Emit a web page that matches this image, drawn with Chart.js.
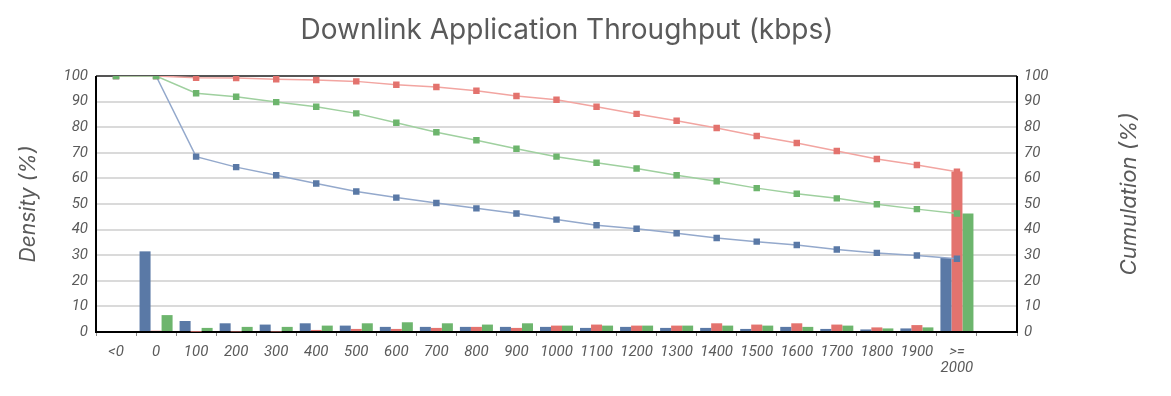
<!DOCTYPE html>
<html>
<head>
<meta charset="utf-8">
<script src="https://cdn.jsdelivr.net/npm/chart.js@4"></script>
<style>
html,body{margin:0;padding:0;background:#fff;}
#wrap{width:1171px;height:396px;}
</style>
</head>
<body>
<div id="wrap"><canvas id="c" width="1171" height="396"></canvas></div>
<script>
const categories = ["<0","0","100","200","300","400","500","600","700","800","900","1000","1100","1200","1300","1400","1500","1600","1700","1800","1900",[">=","2000"],""];
const densityBlue  = [0,31.5,4.3,3.4,2.9,3.4,2.5,2.0,2.0,2.0,2.0,2.0,1.6,2.0,1.6,1.6,1.2,2.0,1.2,1.0,1.4,28.9,null];
const densityRed   = [0,0.5,0.1,0.2,0.2,0.8,1.2,1.2,1.6,2.0,1.6,2.5,2.9,2.5,2.5,3.4,2.9,3.4,2.9,1.8,2.7,62.7,null];
const densityGreen = [0,6.6,1.6,2.0,2.0,2.5,3.4,3.8,3.4,2.9,3.4,2.5,2.5,2.5,2.5,2.5,2.5,2.0,2.5,1.4,1.8,46.3,null];
const cumBlue  = [100,100,68.5,64.4,61.2,58.0,54.9,52.5,50.4,48.3,46.3,43.9,41.7,40.3,38.6,36.7,35.3,34.0,32.2,30.9,29.9,28.6,null];
const cumRed   = [100,100,99.3,99.2,98.7,98.4,97.9,96.6,95.7,94.2,92.2,90.7,88.0,85.2,82.5,79.7,76.6,73.8,70.7,67.6,65.2,62.6,null];
const cumGreen = [100,100,93.3,91.9,89.8,88.0,85.4,81.7,78.0,74.9,71.6,68.5,66.1,63.9,61.2,58.9,56.2,54.0,52.2,49.9,48.0,46.3,null];
const yTicks = [0,10,20,30,40,50,60,70,80,90,100];
const chartTitle = 'Downlink Application Throughput (kbps)';

const BLUE='#5a79a6', RED='#e3736e', GREEN='#6db56d';
const TXT='#5a5a5a';
const FONT='Roboto';
const TFONT='Inter';

const framePlugin = {
  id:'frame',
  beforeDatasetsDraw(chart){
    const {ctx, chartArea:a} = chart;
    ctx.save();
    ctx.lineWidth = 2;
    ctx.strokeStyle = '#555';
    ctx.beginPath(); ctx.moveTo(a.left, a.top); ctx.lineTo(a.right, a.top); ctx.stroke();
    ctx.strokeStyle = '#000';
    ctx.beginPath();
    ctx.moveTo(a.left, a.top); ctx.lineTo(a.left, a.bottom); ctx.lineTo(a.right, a.bottom); ctx.lineTo(a.right, a.top);
    ctx.stroke();
    ctx.restore();
  },
  afterDraw(chart){
    const ctx = chart.ctx;
    ctx.save();
    ctx.font = '28px ' + TFONT;
    ctx.fillStyle = TXT;
    ctx.textAlign = 'center';
    ctx.textBaseline = 'middle';
    ctx.fillText(chartTitle, 567, 31);
    ctx.translate(1129, 194);
    ctx.rotate(-Math.PI/2);
    ctx.font = 'italic 22px ' + TFONT;
    ctx.fillText('Cumulation (%)', 0, 0);
    ctx.restore();
  }
};

function barDs(label, data, color, order){
  return {type:'bar', label, data, backgroundColor:color, yAxisID:'y', order,
          categoryPercentage:0.825, barPercentage:1.0, borderWidth:0};
}
function lineDs(label, data, lineColor, ptColor, order){
  return {type:'line', label, data, borderColor:lineColor, backgroundColor:ptColor,
          pointBackgroundColor:ptColor, pointBorderColor:ptColor, pointStyle:'rect',
          pointRadius:3.5, borderWidth:1.5, tension:0, yAxisID:'y2', order, spanGaps:false};
}

new Chart(document.getElementById('c'), {
  data:{
    labels:categories,
    datasets:[
      lineDs('Cum green', cumGreen, '#9fd09f', GREEN, 0),
      lineDs('Cum red', cumRed, '#f2a5a1', RED, 1),
      lineDs('Cum blue', cumBlue, '#94a9cc', BLUE, 2),
      barDs('Blue', densityBlue, BLUE, 3),
      barDs('Red', densityRed, RED, 4),
      barDs('Green', densityGreen, GREEN, 5)
    ]
  },
  options:{
    responsive:false,
    animation:false,
    layout:{padding:{top:76,left:0,right:0,bottom:0}},
    plugins:{
      legend:{display:false},
      tooltip:{enabled:false},
      title:{display:false}
    },
    scales:{
      x:{
        offset:true,
        grid:{display:true, drawOnChartArea:false, drawTicks:true, tickLength:4, color:'#888', lineWidth:1, offset:true},
        border:{display:false},
        ticks:{color:TXT, font:{family:FONT, size:15, style:'italic', lineHeight:1.07}, padding:8, maxRotation:0, autoSkip:false},
        afterFit(s){ s.height = 64; }
      },
      y:{
        position:'left', min:0, max:100,
        afterBuildTicks(s){ s.ticks = yTicks.map(v=>({value:v})); },
        grid:{color:'#dadada', lineWidth:2, drawTicks:false},
        border:{display:false},
        ticks:{color:TXT, font:{family:FONT, size:15, style:'italic'}, padding:8},
        title:{display:true, text:'Density (%)', color:TXT, font:{family:TFONT, size:21, style:'italic'}, padding:{top:16,bottom:0}},
        afterFit(s){ s.width = 96; }
      },
      y2:{
        position:'right', min:0, max:100,
        afterBuildTicks(s){ s.ticks = yTicks.map(v=>({value:v})); },
        grid:{drawOnChartArea:false, drawTicks:false},
        border:{display:false},
        ticks:{color:TXT, font:{family:FONT, size:15, style:'italic'}, padding:7},
        afterFit(s){ s.width = 154; }
      }
    }
  },
  plugins:[framePlugin]
});
</script>
</body>
</html>
